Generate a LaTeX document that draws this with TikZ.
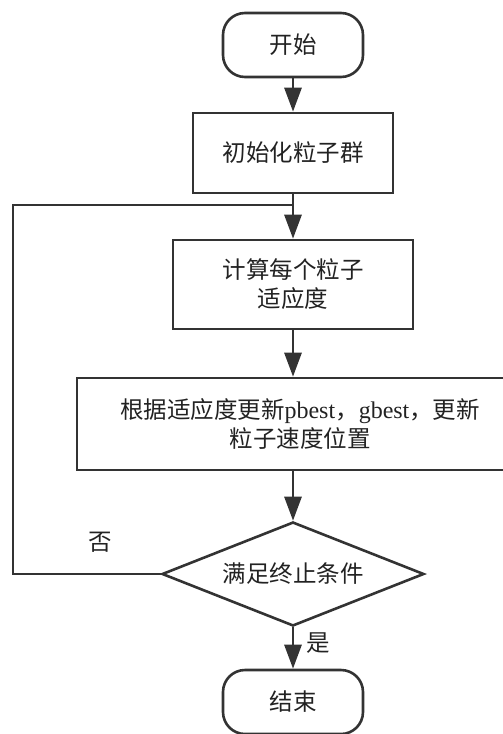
\documentclass[tikz,border=0pt]{standalone}
\usepackage{fontspec}
\setmainfont{Liberation Serif}
\newfontfamily\cjk{Noto Sans CJK SC}
\usetikzlibrary{shapes.geometric,arrows.meta}
\definecolor{ln}{HTML}{333333}
\definecolor{tx}{HTML}{222222}
\tikzset{
  base/.style={draw=ln, line width=2.6pt, text=tx, font=\cjk\fontsize{23.5}{29}\selectfont, align=center, inner sep=0pt},
  term/.style={base, rectangle, rounded corners=22pt, minimum width=140pt, minimum height=64pt},
  proc/.style={base, rectangle},
  decide/.style={base, diamond, aspect=2.5, minimum width=262pt, minimum height=104pt},
  flow/.style={draw=ln, line width=2.8pt, -{Triangle[length=24pt,width=17pt]}},
  plain/.style={draw=ln, line width=2.6pt},
  lbl/.style={text=tx, font=\cjk\fontsize{23.5}{25}\selectfont, inner sep=0pt}
}
\begin{document}
\begin{tikzpicture}[x=1pt,y=-1pt]
\useasboundingbox (0,0) rectangle (503,734);
\node[term] (start) at (293,45) {开始};
\node[proc, minimum width=200pt, minimum height=80pt] (init) at (293,153) {初始化粒子群};
\node[proc, minimum width=240pt, minimum height=89pt] (calc) at (293,284.5) {计算每个粒子\\适应度};
\node[proc, minimum width=446pt, minimum height=92pt] (upd) at (300,424) {根据适应度更新{\rmfamily\fontsize{24}{29}\selectfont pbest}，{\rmfamily\fontsize{24}{29}\selectfont gbest}，更新\\粒子速度位置};
\node[decide] (dec) at (293,574) {满足终止条件};
\node[term] (end) at (293,702) {结束};
\coordinate (join) at (293,205);
\coordinate (lb) at (13,574);
\coordinate (lt) at (13,205);
\node[lbl] (no) at (100,542) {否};
\node[lbl] (yes) at (318,643) {是};
\draw[flow] (start) -- (init);
\draw[flow] (init) -- (calc);
\draw[flow] (calc) -- (upd.north -| calc);
\draw[flow] (upd.south -| dec) -- (dec);
\draw[flow] (dec) -- (end);
\draw[plain] (dec.west) -- (lb) -- (lt) -- (join);
\end{tikzpicture}
\end{document}
